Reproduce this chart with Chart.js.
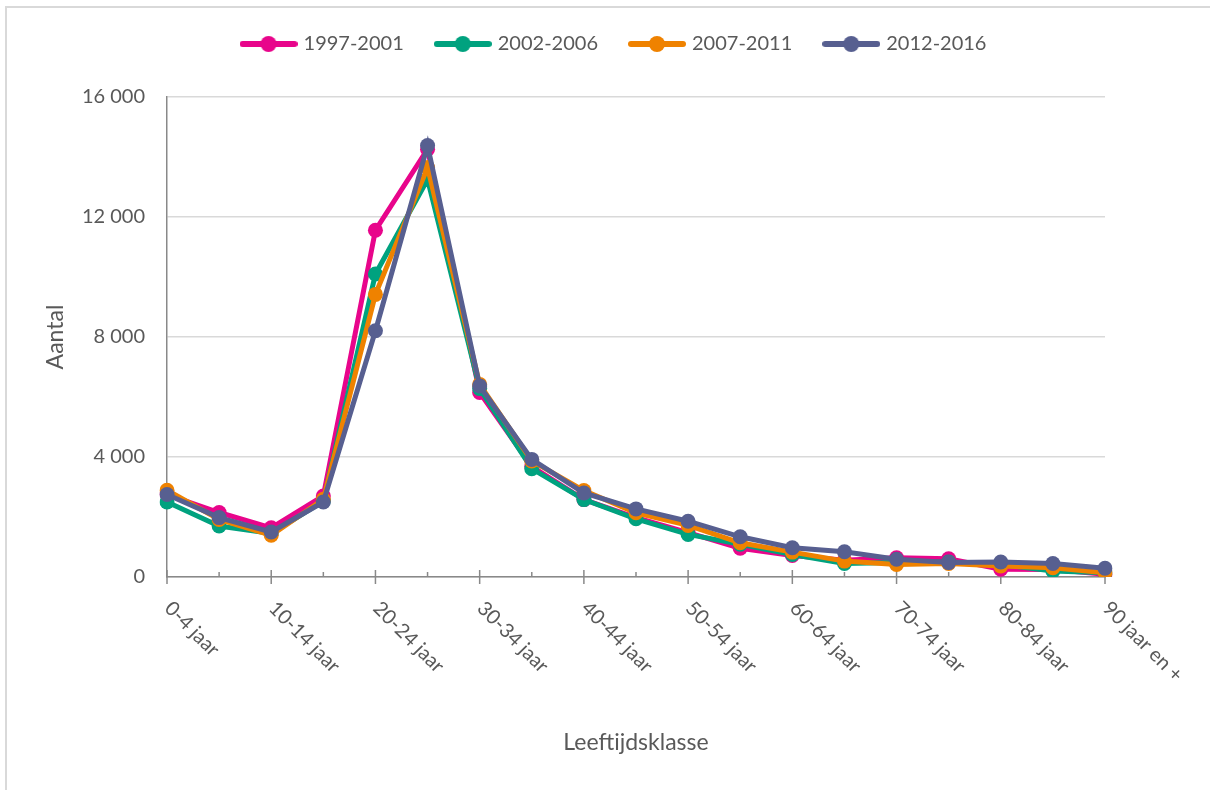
<!DOCTYPE html>
<html>
<head>
<meta charset="utf-8">
<script src="https://cdn.jsdelivr.net/npm/chart.js@4/dist/chart.umd.min.js"></script>
<style>
  html, body { margin: 0; padding: 0; background: #fff; overflow: hidden; }
  #wrap { position: relative; width: 1210px; height: 790px; }
  #frame { position: absolute; left: 5px; top: 6px; width: 1300px; height: 900px;
           border-left: 2px solid #d9d9d9; border-top: 2px solid #d9d9d9; }
  #chart { position: absolute; left: 0; top: 0; }
</style>
</head>
<body>
<div id="wrap">
  <div id="frame"></div>
  <canvas id="chart" width="1210" height="790"></canvas>
</div>
<script>
const ageGroups = ['0-4 jaar', '5-9 jaar', '10-14 jaar', '15-19 jaar', '20-24 jaar', '25-29 jaar',
  '30-34 jaar', '35-39 jaar', '40-44 jaar', '45-49 jaar', '50-54 jaar', '55-59 jaar', '60-64 jaar',
  '65-69 jaar', '70-74 jaar', '75-79 jaar', '80-84 jaar', '85-89 jaar', '90 jaar en +'];

const periods = ['1997-2001', '2002-2006', '2007-2011', '2012-2016'];

const p1997 = [2750, 2150, 1640, 2700, 11560, 14260, 6150, 3680, 2580, 1980, 1480, 960, 720, 560, 640, 610, 260, 250, 90];
const p2002 = [2500, 1700, 1450, 2530, 10100, 13250, 6280, 3610, 2580, 1940, 1420, 1090, 750, 450, 480, 500, 420, 200, 140];
const p2007 = [2890, 1920, 1390, 2590, 9420, 13650, 6420, 3870, 2880, 2140, 1720, 1140, 830, 530, 420, 450, 370, 310, 145];
const p2012 = [2750, 1980, 1500, 2500, 8210, 14380, 6370, 3920, 2800, 2270, 1860, 1340, 975, 840, 590, 480, 500, 450, 290];

const yTicks = [0, 4000, 8000, 12000, 16000];

const colors = ['#e8058b', '#00a27f', '#ef8200', '#575f90'];
const textColor = '#595959';
const axisColor = '#898989';
const font = 'Lato';

function legendIcon(color) {
  const c = document.createElement('canvas');
  c.width = 58; c.height = 18;
  const g = c.getContext('2d');
  g.strokeStyle = color; g.lineWidth = 6; g.lineCap = 'round';
  g.beginPath(); g.moveTo(3, 9); g.lineTo(55, 9); g.stroke();
  g.fillStyle = color;
  g.beginPath(); g.arc(29, 9, 8, 0, Math.PI * 2); g.fill();
  return c;
}

const axisDecor = {
  id: 'axisDecor',
  beforeDatasetsDraw(chart) {
    const x = chart.scales.x, ctx = chart.ctx, y0 = x.top;
    ctx.save();
    ctx.strokeStyle = axisColor; ctx.lineWidth = 1.5;
    ageGroups.forEach((_, i) => {
      const px = x.getPixelForValue(i);
      ctx.beginPath();
      if (i % 2 === 0) { ctx.moveTo(px, y0 - 7); ctx.lineTo(px, y0 + 7); }
      else { ctx.moveTo(px, y0 - 5); ctx.lineTo(px, y0); }
      ctx.stroke();
    });
    ctx.restore();
  },
  afterDraw(chart) {
    const x = chart.scales.x, ctx = chart.ctx;
    ctx.save();
    ctx.fillStyle = textColor;
    ctx.font = '20px ' + font;
    ctx.textAlign = 'left'; ctx.textBaseline = 'middle';
    ageGroups.forEach((lab, i) => {
      if (i % 2 !== 0) return;
      ctx.save();
      ctx.translate(x.getPixelForValue(i) + 1, x.top + 28);
      ctx.rotate(Math.PI / 4);
      ctx.fillText(lab, 0, 0);
      ctx.restore();
    });
    ctx.restore();
  }
};

const seriesData = [p1997, p2002, p2007, p2012];

new Chart(document.getElementById('chart'), {
  type: 'line',
  data: {
    labels: ageGroups,
    datasets: periods.map((name, i) => ({
      label: name,
      data: seriesData[i],
      order: periods.length - i,
      borderColor: colors[i],
      backgroundColor: colors[i],
      pointBackgroundColor: colors[i],
      pointBorderColor: colors[i],
      pointBorderWidth: 0,
      pointRadius: 7.5,
      borderWidth: 5,
      tension: 0
    }))
  },
  options: {
    responsive: false,
    animation: false,
    layout: { padding: { left: 20, right: 0, top: 0, bottom: 0 } },
    plugins: {
      tooltip: { enabled: false },
      legend: {
        position: 'top',
        labels: {
          usePointStyle: true,
          pointStyleWidth: 50,
          padding: 34,
          color: textColor,
          font: { family: font, size: 20 },
          sort: (a, b) => a.datasetIndex - b.datasetIndex,
          generateLabels(chart) {
            const items = Chart.defaults.plugins.legend.labels.generateLabels(chart);
            items.forEach(it => { it.pointStyle = legendIcon(colors[it.datasetIndex]); });
            return items;
          }
        }
      }
    },
    scales: {
      x: {
        type: 'category',
        offset: false,
        grid: { display: false },
        border: { color: axisColor, width: 1.5 },
        ticks: { display: false },
        title: { display: true, text: 'Leeftijdsklasse', color: textColor,
                 font: { family: font, size: 23 }, padding: { top: 0, bottom: 34 } },
        afterFit(s) { s.height = 213; }
      },
      xTop: {
        type: 'category',
        position: 'top',
        grid: { display: false },
        border: { display: false },
        ticks: { display: false },
        afterFit(s) { s.height = 33; }
      },
      y: {
        min: 0,
        max: 16000,
        afterBuildTicks(s) { s.ticks = yTicks.map(v => ({ value: v })); },
        grid: { color: '#d9d9d9', lineWidth: 1.5, drawTicks: false },
        border: { color: axisColor, width: 1.5 },
        ticks: {
          color: textColor,
          font: { family: font, size: 20 },
          padding: 22,
          callback: v => String(v).replace(/\B(?=(\d{3})+(?!\d))/g, ' ')
        },
        title: { display: true, text: 'Aantal', color: textColor,
                 font: { family: font, size: 23 }, padding: { top: 22, bottom: 0 } },
        afterFit(s) { s.width = 147; }
      },
      yRight: {
        type: 'linear',
        position: 'right',
        grid: { display: false },
        border: { display: false },
        ticks: { display: false },
        afterFit(s) { s.width = 105; }
      }
    }
  },
  plugins: [axisDecor]
});
</script>
</body>
</html>
